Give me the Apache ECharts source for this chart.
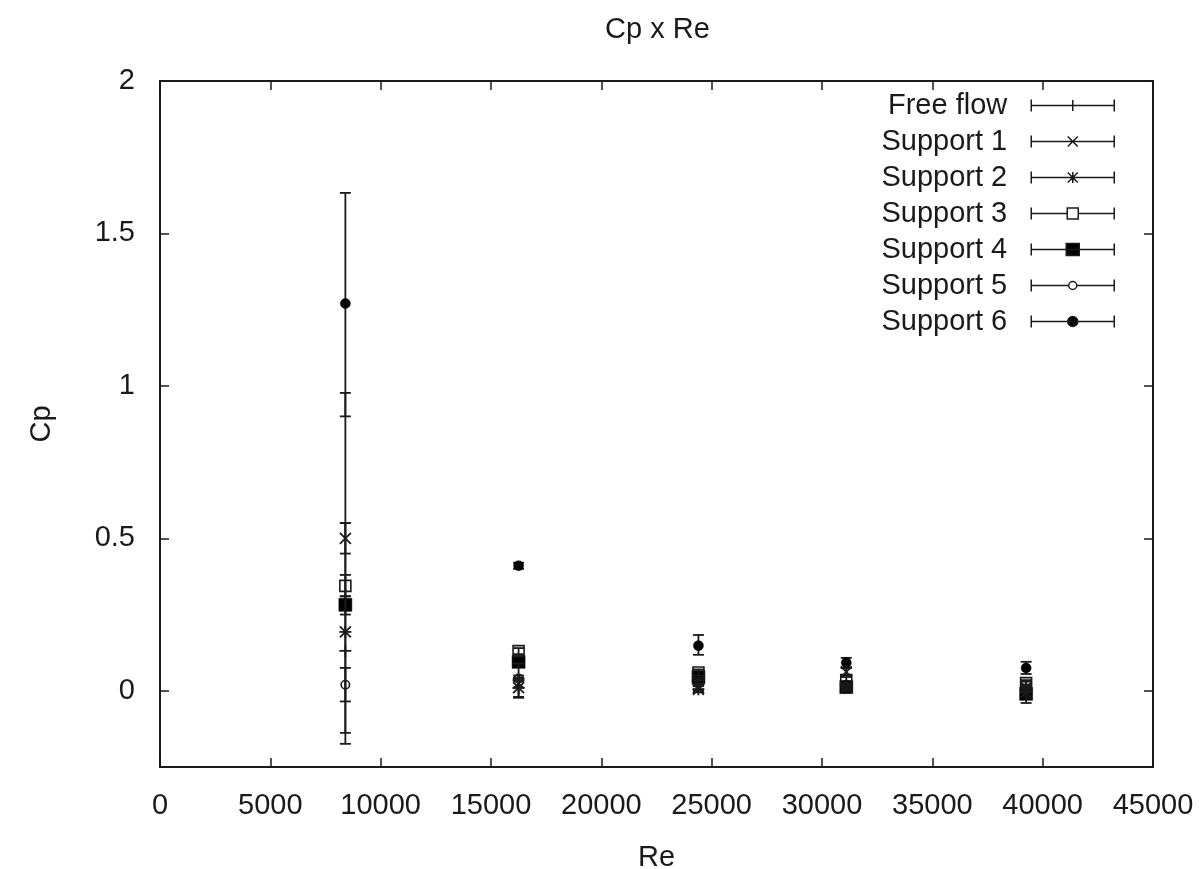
<!DOCTYPE html>
<html>
<head>
<meta charset="utf-8">
<script src="https://cdn.jsdelivr.net/npm/echarts@6/dist/echarts.min.js"></script>
<style>
  html, body { margin: 0; padding: 0; background: #fff; }
  #chart { width: 1204px; height: 869px; }
</style>
</head>
<body>
<div id="chart"></div>
<script>
// Re values where each support was measured
var reynolds = [8400, 16250, 24400, 31100, 39250];
var seriesNames = ['Free flow', 'Support 1', 'Support 2', 'Support 3', 'Support 4', 'Support 5', 'Support 6'];
var yTicks = [0, 0.5, 1, 1.5, 2];

// Cp values and error bar limits (low / high)
var freeFlow     = [0.131, 0.035, 0.02, 0.015, 0.01];
var freeFlowLow  = [-0.174, -0.02, 0.005, 0.005, 0.0];
var freeFlowHigh = [0.977, 0.09, 0.035, 0.025, 0.02];

var support1     = [0.50, 0.025, 0.01, 0.062, 0.01];
var support1Low  = [0.45, 0.01, 0.0, 0.05, 0.0];
var support1High = [0.55, 0.04, 0.02, 0.074, 0.02];

var support2     = [0.193, 0.01, 0.005, 0.01, -0.005];
var support2Low  = [-0.138, -0.023, -0.005, 0.0, -0.04];
var support2High = [0.55, 0.043, 0.015, 0.02, 0.03];

var support3     = [0.344, 0.13, 0.06, 0.035, 0.025];
var support3Low  = [0.31, 0.12, 0.05, 0.025, 0.015];
var support3High = [0.38, 0.14, 0.07, 0.045, 0.035];

var support4     = [0.282, 0.095, 0.045, 0.012, -0.01];
var support4Low  = [0.25, 0.085, 0.035, 0.002, -0.02];
var support4High = [0.31, 0.105, 0.055, 0.022, 0.0];

var support5     = [0.02, 0.04, 0.03, 0.02, 0.0];
var support5Low  = [-0.035, 0.03, 0.02, 0.01, -0.01];
var support5High = [0.075, 0.05, 0.04, 0.03, 0.01];

var support6     = [1.27, 0.41, 0.148, 0.092, 0.075];
var support6Low  = [0.90, 0.40, 0.118, 0.076, 0.055];
var support6High = [1.633, 0.42, 0.183, 0.108, 0.095];

var allValues = [freeFlow, support1, support2, support3, support4, support5, support6];
var allLow = [freeFlowLow, support1Low, support2Low, support3Low, support4Low, support5Low, support6Low];
var allHigh = [freeFlowHigh, support1High, support2High, support3High, support4High, support5High, support6High];
var markers = ['plus', 'cross', 'star', 'box', 'fillbox', 'circle', 'fillcircle'];

var ink = '#1a1a1a';
var lw = 1.8;

function seg(x1, y1, x2, y2) {
    return { type: 'line', shape: { x1: x1, y1: y1, x2: x2, y2: y2 }, style: { stroke: ink, lineWidth: lw } };
}

function markerShapes(kind, x, y) {
    var s = [];
    if (kind == 'plus' || kind == 'star') {
        s.push(seg(x - 6, y, x + 6, y));
        s.push(seg(x, y - 6, x, y + 6));
    }
    if (kind == 'cross' || kind == 'star') {
        s.push(seg(x - 5.5, y - 5.5, x + 5.5, y + 5.5));
        s.push(seg(x - 5.5, y + 5.5, x + 5.5, y - 5.5));
    }
    if (kind == 'box') {
        s.push({ type: 'rect', shape: { x: x - 5.5, y: y - 5.5, width: 11, height: 11 }, style: { fill: 'none', stroke: ink, lineWidth: 1.6 } });
    }
    if (kind == 'fillbox') {
        s.push({ type: 'rect', shape: { x: x - 6.5, y: y - 6.5, width: 13, height: 13 }, style: { fill: '#000', stroke: '#000', lineWidth: 0.5 } });
    }
    if (kind == 'circle') {
        s.push({ type: 'circle', shape: { cx: x, cy: y, r: 4.2 }, style: { fill: 'none', stroke: ink, lineWidth: 1.6 } });
    }
    if (kind == 'fillcircle') {
        s.push({ type: 'circle', shape: { cx: x, cy: y, r: 5 }, style: { fill: '#000', stroke: '#000', lineWidth: 0.5 } });
    }
    return s;
}

function makeRender(kind) {
    return function (params, api) {
        var x = api.value(0);
        var p = api.coord([x, api.value(1)]);
        var lo = api.coord([x, api.value(2)]);
        var hi = api.coord([x, api.value(3)]);
        var children = [
            seg(p[0], hi[1], p[0], lo[1]),
            seg(p[0] - 5.5, hi[1], p[0] + 5.5, hi[1]),
            seg(p[0] - 5.5, lo[1], p[0] + 5.5, lo[1])
        ];
        return { type: 'group', children: children.concat(markerShapes(kind, p[0], p[1])) };
    };
}

// legend samples: 83 x 12 box, error bar with marker in the middle
var lineBase = 'M0,6L83,6M0,0L0,12M83,0L83,12';
var legendIcons = [
    'path://' + lineBase + 'M41.5,0.5L41.5,11.5',
    'path://' + lineBase + 'M36.5,1L46.5,11M46.5,1L36.5,11',
    'path://' + lineBase + 'M41.5,0.5L41.5,11.5M36.5,1L46.5,11M46.5,1L36.5,11',
    'path://M0,6L36,6M47,6L83,6M0,0L0,12M83,0L83,12M36,0.5L47,0.5L47,11.5L36,11.5Z',
    'path://' + lineBase + 'M35,0L48,0L48,12L35,12Z',
    'path://M0,6L37.5,6M45.5,6L83,6M0,0L0,12M83,0L83,12M45.5,6A4,4 0 1,1 37.5,6A4,4 0 1,1 45.5,6Z',
    'path://' + lineBase + 'M46.5,6A5,5 0 1,1 36.5,6A5,5 0 1,1 46.5,6Z'
];
var legendFills = ['#000', '#000', '#000', '#fff', '#000', '#fff', '#000'];

var series = [];
var legendData = [];
for (var i = 0; i < seriesNames.length; i++) {
    var rows = [];
    for (var j = 0; j < reynolds.length; j++) {
        rows.push([reynolds[j], allValues[i][j], allLow[i][j], allHigh[i][j]]);
    }
    series.push({
        type: 'custom',
        name: seriesNames[i],
        renderItem: makeRender(markers[i]),
        encode: { x: 0, y: [1, 2, 3] },
        itemStyle: { color: '#000' },
        data: rows,
        z: 10 - i
    });
    legendData.push({
        name: seriesNames[i],
        icon: legendIcons[i],
        itemStyle: { color: legendFills[i], borderColor: ink, borderWidth: 1.5 }
    });
}

var fontName = 'Liberation Sans';
var fontSize = 29;
var labelFont = { fontFamily: fontName, fontSize: fontSize, color: ink };

var chart = echarts.init(document.getElementById('chart'));
chart.setOption({
    animation: false,
    title: {
        text: 'Cp x Re',
        left: 600,
        top: 10,
        textStyle: { fontFamily: fontName, fontSize: fontSize, fontWeight: 'normal', color: ink }
    },
    legend: {
        orient: 'vertical',
        align: 'right',
        right: 89,
        top: 91,
        padding: 0,
        itemWidth: 83,
        itemHeight: 12,
        itemGap: 7,
        selectedMode: false,
        textStyle: { fontFamily: fontName, fontSize: fontSize, color: ink, padding: [0, 19, 0, 0] },
        data: legendData
    },
    grid: {
        left: 160, right: 51, top: 81, bottom: 102,
        outerBoundsMode: 'none',
        show: true, borderColor: ink, borderWidth: 2, backgroundColor: '#fff'
    },
    xAxis: [{
        type: 'value', min: 0, max: 45000, interval: 5000, position: 'bottom',
        name: 'Re', nameLocation: 'middle', nameGap: 76, nameTextStyle: labelFont,
        axisLine: { show: true, onZero: false, lineStyle: { color: ink, width: 2 } },
        axisTick: { inside: true, length: 9, lineStyle: { color: ink, width: 1.5 } },
        axisLabel: { margin: 24, fontFamily: fontName, fontSize: fontSize, color: ink,
            formatter: function (v) { return String(v); } },
        splitLine: { show: false }
    }, {
        type: 'value', min: 0, max: 45000, interval: 5000, position: 'top',
        axisLine: { show: true, onZero: false, lineStyle: { color: ink, width: 2 } },
        axisTick: { inside: true, length: 9, lineStyle: { color: ink, width: 1.5 } },
        axisLabel: { show: false },
        splitLine: { show: false }
    }],
    yAxis: [{
        type: 'value', min: -0.25, max: 2, position: 'left',
        name: 'Cp', nameLocation: 'middle', nameGap: 104, nameTextStyle: labelFont,
        axisLine: { show: true, onZero: false, lineStyle: { color: ink, width: 2 } },
        axisTick: { inside: true, length: 9, customValues: yTicks, lineStyle: { color: ink, width: 1.5 } },
        axisLabel: { margin: 25, customValues: yTicks, fontFamily: fontName, fontSize: fontSize, color: ink },
        splitLine: { show: false }
    }, {
        type: 'value', min: -0.25, max: 2, position: 'right',
        axisLine: { show: true, onZero: false, lineStyle: { color: ink, width: 2 } },
        axisTick: { inside: true, length: 9, customValues: yTicks, lineStyle: { color: ink, width: 1.5 } },
        axisLabel: { show: false },
        splitLine: { show: false }
    }],
    series: series
});
</script>
</body>
</html>
